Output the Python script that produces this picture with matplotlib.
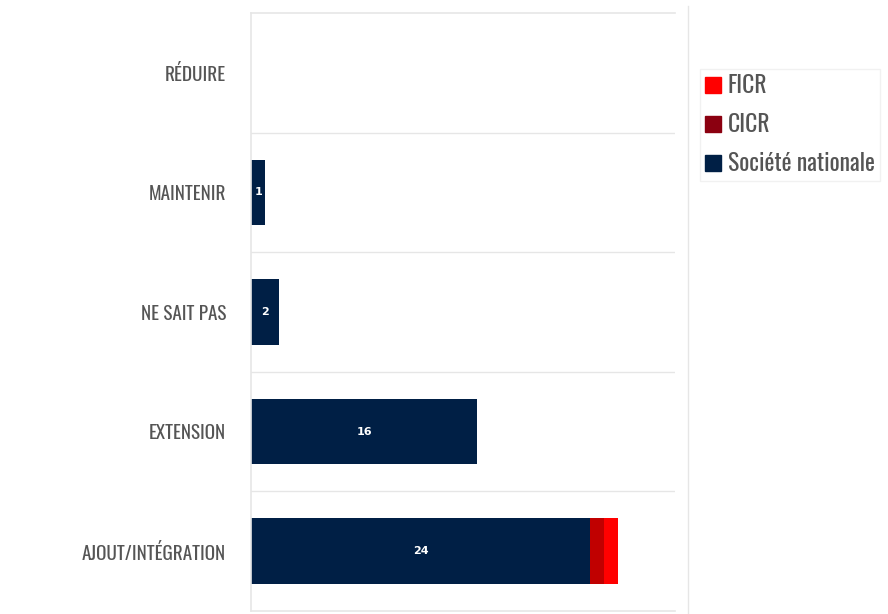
import matplotlib
matplotlib.use("Agg")
import matplotlib.pyplot as plt
from matplotlib.patches import Patch
from matplotlib import font_manager

# données
categories = ["AJOUT/INTÉGRATION", "EXTENSION", "NE SAIT PAS", "MAINTENIR", "RÉDUIRE"]
societe_nationale = [24, 16, 2, 1, 0]
cicr = [1, 0, 0, 0, 0]
ficr = [1, 0, 0, 0, 0]
series_names = ["FICR", "CICR", "Société nationale"]

col_sn = "#001F45"
col_cicr = "#C00000"
col_ficr = "#FF0000"

# chercher une police étroite (Oswald si dispo)
narrow = None
cands = [f for f in font_manager.fontManager.ttflist]
for key in ["Oswald", "RobotoCondensed-Regular", "LiberationSansNarrow-Regular", "DejaVuSansCondensed.ttf",
            "Condensed-Regular", "Condensed", "Narrow"]:
    for f in cands:
        if key in f.fname and "Bold" not in f.fname and "Italic" not in f.fname and "Oblique" not in f.fname:
            narrow = f.fname
            break
    if narrow:
        break

def fp(size):
    if narrow:
        return font_manager.FontProperties(fname=narrow, size=size)
    return font_manager.FontProperties(family="DejaVu Sans", stretch="condensed", size=size)

fig = plt.figure(figsize=(8.88, 6.14), dpi=100)
ax = fig.add_axes([251/888, 1-611/614, (675-251)/888, (611-13)/614])

y = range(len(categories))
h = 0.55
ax.barh(y, societe_nationale, height=h, color=col_sn)
ax.barh(y, cicr, left=societe_nationale, height=h, color=col_cicr)
left2 = [a + b for a, b in zip(societe_nationale, cicr)]
ax.barh(y, ficr, left=left2, height=h, color=col_ficr)

for i, v in enumerate(societe_nationale):
    if v > 0:
        ax.text(v/2, i, str(v), color="white", ha="center", va="center",
                fontsize=8, fontweight="bold", family="DejaVu Sans")

ax.set_xlim(0, 30)
ax.set_ylim(-0.5, len(categories)-0.5)
ax.set_yticks(list(y))
ax.set_yticklabels(categories, color="#555555")
for t in ax.get_yticklabels():
    t.set_fontproperties(fp(13.8))
ax.tick_params(axis="y", length=0, pad=18)
ax.set_xticks([])

# lignes de séparation
for k in range(len(categories)-1):
    ax.axhline(k+0.5, color="#E6E6E6", lw=1)
for s in ax.spines.values():
    s.set_color("#E6E6E6")
    s.set_linewidth(1.2)
ax.spines["right"].set_visible(False)

# ligne verticale de séparation
fig.add_artist(plt.Line2D([688/888, 688/888], [0, 1-6/614], color="#E6E6E6", lw=1))

handles = [Patch(color=col_ficr), Patch(color="#8B0010"), Patch(color=col_sn)]
leg = fig.legend(handles, series_names, loc="upper left", bbox_to_anchor=(700/888, 1-69/614),
                 prop=fp(17), frameon=True, fancybox=False,
                 handlelength=0.65, handleheight=0.65, handletextpad=0.3,
                 labelspacing=0.68, borderpad=0.22, borderaxespad=0)
leg.get_frame().set_edgecolor("#EEEEEE")
leg.get_frame().set_linewidth(1)
for t in leg.get_texts():
    t.set_color("#555555")

fig.savefig("out.png", dpi=100)
